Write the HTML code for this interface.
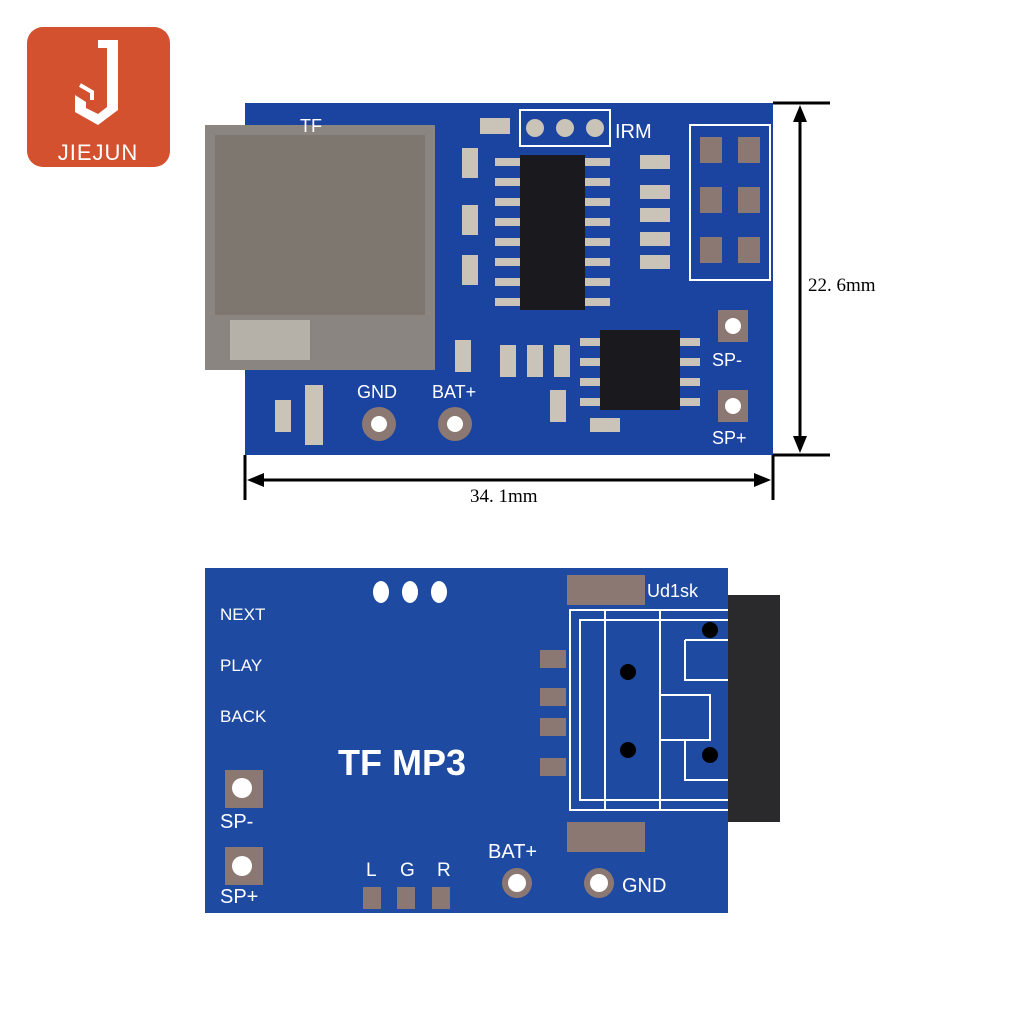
<!DOCTYPE html><html><head><style>body{margin:0;background:#fff}svg{display:block}</style></head><body>
<svg width="1024" height="1024" viewBox="0 0 1024 1024" xmlns="http://www.w3.org/2000/svg" font-family="Liberation Sans, sans-serif">
<rect width="1024" height="1024" fill="#fff"/>
<rect x="27" y="27" width="143" height="140" rx="16" fill="#d4512f"/>
<path d="M98 40 L118 40 L118 110 L98 125 L75 112 L75 95 L86 102 L86 108 L98 114 L107 107 L107 48 L98 48 Z" fill="#fff"/>
<path d="M80 85 L92 92 L92 100" stroke="#fff" stroke-width="4" fill="none"/>
<text x="98" y="160" fill="#fff" font-size="22" text-anchor="middle" letter-spacing="1">JIEJUN</text>
<rect x="245" y="103" width="528" height="352" fill="#1b43a0"/>
<rect x="205" y="125" width="230" height="245" fill="#8a8580"/>
<rect x="215" y="135" width="210" height="180" fill="#7d7770"/>
<rect x="230" y="320" width="80" height="40" fill="#b5b0a8"/>
<rect x="520" y="110" width="90" height="36" fill="none" stroke="#fff" stroke-width="2"/>
<circle cx="535" cy="128" r="9" fill="#c9c3b8"/><circle cx="565" cy="128" r="9" fill="#c9c3b8"/><circle cx="595" cy="128" r="9" fill="#c9c3b8"/>
<text x="615" y="138" fill="#fff" font-size="20">IRM</text>
<text x="300" y="132" fill="#fff" font-size="18">TF</text>
<g fill="#c9c3b8"><rect x="495" y="158" width="115" height="8"/><rect x="495" y="178" width="115" height="8"/><rect x="495" y="198" width="115" height="8"/><rect x="495" y="218" width="115" height="8"/><rect x="495" y="238" width="115" height="8"/><rect x="495" y="258" width="115" height="8"/><rect x="495" y="278" width="115" height="8"/><rect x="495" y="298" width="115" height="8"/></g>
<rect x="520" y="155" width="65" height="155" fill="#1a1a1e"/>
<rect x="690" y="125" width="80" height="155" fill="none" stroke="#fff" stroke-width="2"/>
<g fill="#8c7872"><rect x="700" y="137" width="22" height="26"/><rect x="738" y="137" width="22" height="26"/><rect x="700" y="187" width="22" height="26"/><rect x="738" y="187" width="22" height="26"/><rect x="700" y="237" width="22" height="26"/><rect x="738" y="237" width="22" height="26"/></g>
<g fill="#c9c3b8"><rect x="580" y="338" width="120" height="8"/><rect x="580" y="358" width="120" height="8"/><rect x="580" y="378" width="120" height="8"/><rect x="580" y="398" width="120" height="8"/></g>
<rect x="600" y="330" width="80" height="80" fill="#1a1a1e"/>
<rect x="718" y="310" width="30" height="32" fill="#8c7872"/><circle cx="733" cy="326" r="8" fill="#fff"/>
<rect x="718" y="390" width="30" height="32" fill="#8c7872"/><circle cx="733" cy="406" r="8" fill="#fff"/>
<text x="712" y="366" fill="#fff" font-size="18">SP-</text>
<text x="712" y="444" fill="#fff" font-size="18">SP+</text>
<text x="357" y="398" fill="#fff" font-size="18">GND</text>
<text x="432" y="398" fill="#fff" font-size="18">BAT+</text>
<circle cx="379" cy="424" r="17" fill="#8c7872"/><circle cx="379" cy="424" r="8" fill="#fff"/>
<circle cx="455" cy="424" r="17" fill="#8c7872"/><circle cx="455" cy="424" r="8" fill="#fff"/>
<g fill="#c9c3b8"><rect x="462" y="148" width="16" height="30"/><rect x="462" y="205" width="16" height="30"/><rect x="462" y="255" width="16" height="30"/><rect x="640" y="155" width="30" height="14"/><rect x="640" y="185" width="30" height="14"/><rect x="640" y="208" width="30" height="14"/><rect x="640" y="232" width="30" height="14"/><rect x="640" y="255" width="30" height="14"/><rect x="500" y="345" width="16" height="32"/><rect x="527" y="345" width="16" height="32"/><rect x="554" y="345" width="16" height="32"/><rect x="455" y="340" width="16" height="32"/><rect x="550" y="390" width="16" height="32"/><rect x="590" y="418" width="30" height="14"/><rect x="275" y="400" width="16" height="32"/><rect x="305" y="385" width="18" height="60"/><rect x="480" y="118" width="30" height="16"/></g>
<g stroke="#000" stroke-width="3" fill="none">
<line x1="773" y1="103" x2="830" y2="103"/><line x1="773" y1="455" x2="830" y2="455"/>
<line x1="800" y1="112" x2="800" y2="446"/>
<line x1="245" y1="455" x2="245" y2="500"/><line x1="773" y1="455" x2="773" y2="500"/>
<line x1="254" y1="480" x2="764" y2="480"/></g>
<path d="M800 105 L793 122 L807 122Z M800 453 L793 436 L807 436Z M247 480 L264 473 L264 487Z M771 480 L754 473 L754 487Z" fill="#000"/>
<text x="808" y="291" font-size="19" font-family="Liberation Serif, serif">22. 6mm</text>
<text x="470" y="502" font-size="19" font-family="Liberation Serif, serif">34. 1mm</text>
<rect x="728" y="595" width="52" height="227" fill="#2a2a2c"/>
<rect x="205" y="568" width="523" height="345" fill="#1f4aa2"/>
<g fill="#fff"><ellipse cx="381" cy="592" rx="8" ry="11"/><ellipse cx="410" cy="592" rx="8" ry="11"/><ellipse cx="439" cy="592" rx="8" ry="11"/></g>
<rect x="567" y="575" width="78" height="30" fill="#8c7872"/>
<rect x="567" y="822" width="78" height="30" fill="#8c7872"/>
<text x="647" y="597" fill="#fff" font-size="18">Ud1sk</text>
<g stroke="#fff" stroke-width="2" fill="none">
<path d="M728 610 H570 V810 H728 M728 620 H580 V800 H728 M605 610 V810 M660 610 V810 M685 640 H728 M685 640 V680 H728 M685 740 V780 H728 M660 695 H710 V740 H660"/></g>
<g fill="#8c7872"><rect x="540" y="650" width="26" height="18"/><rect x="540" y="688" width="26" height="18"/><rect x="540" y="718" width="26" height="18"/><rect x="540" y="758" width="26" height="18"/></g>
<g fill="#000"><circle cx="628" cy="672" r="8"/><circle cx="628" cy="750" r="8"/><circle cx="710" cy="630" r="8"/><circle cx="710" cy="755" r="8"/></g>
<g fill="#fff" font-size="17"><text x="220" y="620">NEXT</text><text x="220" y="671">PLAY</text><text x="220" y="722">BACK</text><text x="220" y="828" font-size="20">SP-</text><text x="220" y="903" font-size="20">SP+</text>
<text x="366" y="876" font-size="19">L</text><text x="400" y="876" font-size="19">G</text><text x="437" y="876" font-size="19">R</text>
<text x="488" y="858" font-size="20">BAT+</text><text x="622" y="892" font-size="20">GND</text></g>
<text x="338" y="775" fill="#fff" font-size="36" font-weight="bold">TF MP3</text>
<rect x="225" y="770" width="38" height="38" fill="#8c7872"/><circle cx="242" cy="788" r="10" fill="#fff"/>
<rect x="225" y="847" width="38" height="38" fill="#8c7872"/><circle cx="242" cy="866" r="10" fill="#fff"/>
<g fill="#8c7872"><rect x="363" y="887" width="18" height="22"/><rect x="397" y="887" width="18" height="22"/><rect x="432" y="887" width="18" height="22"/></g>
<circle cx="517" cy="883" r="15" fill="#8c7872"/><circle cx="517" cy="883" r="9" fill="#fff"/>
<circle cx="599" cy="883" r="15" fill="#8c7872"/><circle cx="599" cy="883" r="9" fill="#fff"/>
</svg></body></html>
